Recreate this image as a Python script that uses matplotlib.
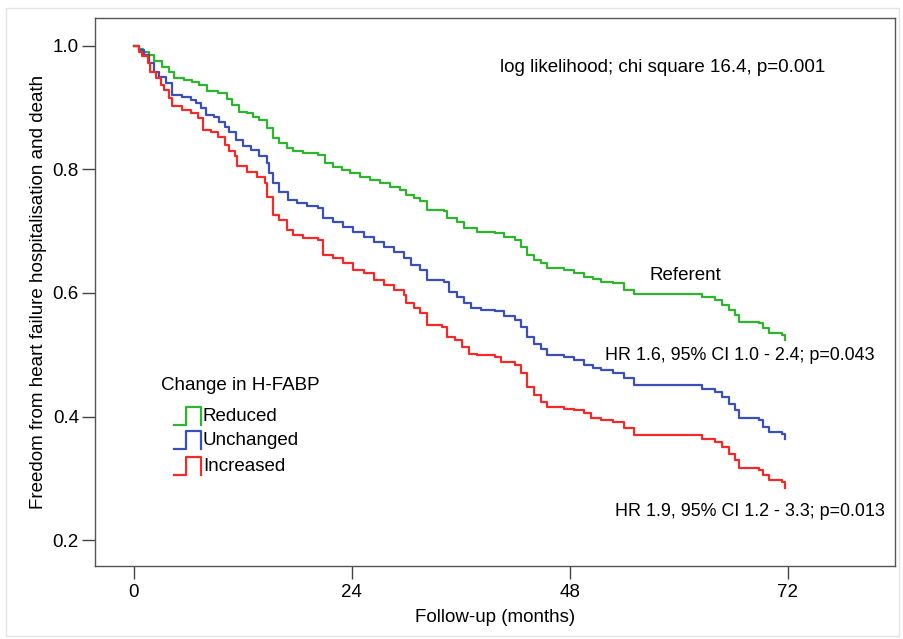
import matplotlib
matplotlib.use('Agg')
from matplotlib import pyplot as plt
from matplotlib.patches import Rectangle

plt.rcParams['font.family'] = ['Liberation Sans', 'DejaVu Sans']

# Kaplan-Meier step points (months, survival)
reduced_t = [0, 0.5, 1.0, 1.66, 2.2, 3.1, 3.9, 4.4, 5.5, 6.4, 7.2, 8.0, 9.2, 10.2, 10.8,
             11.6, 12.4, 13.1, 13.8, 14.7, 15.3, 16.0, 16.8, 17.5, 18.6, 20.3, 21.0,
             21.9, 22.9, 23.8, 24.9, 26.0, 27.1, 28.2, 29.3, 30.0, 30.8, 31.5, 32.3,
             34.1, 34.5, 35.6, 36.3, 37.8, 39.8, 40.7, 42.0, 42.6, 43.3, 44.1, 44.8,
             45.5, 47.4, 48.5, 49.6, 50.5, 51.4, 52.7, 54.0, 55.1, 62.5, 64.0, 64.7,
             65.5, 66.2, 66.6, 68.8, 69.3, 69.9, 71.4, 71.7]
reduced_s = [1.0, 0.995, 0.99, 0.985, 0.975, 0.966, 0.958, 0.948, 0.945, 0.942, 0.937,
             0.926, 0.924, 0.913, 0.904, 0.893, 0.891, 0.885, 0.880, 0.867, 0.850,
             0.842, 0.834, 0.829, 0.826, 0.823, 0.810, 0.804, 0.799, 0.794, 0.788,
             0.783, 0.778, 0.772, 0.767, 0.759, 0.753, 0.748, 0.734, 0.732, 0.721,
             0.715, 0.705, 0.699, 0.697, 0.691, 0.686, 0.675, 0.661, 0.653, 0.648,
             0.640, 0.637, 0.632, 0.626, 0.622, 0.618, 0.616, 0.605, 0.599, 0.594,
             0.589, 0.580, 0.572, 0.564, 0.553, 0.551, 0.543, 0.535, 0.532, 0.524]

unchanged_t = [0, 0.6, 1.1, 1.7, 2.2, 2.8, 3.5, 4.2, 5.3, 6.3, 6.8, 7.4, 7.9, 8.8, 9.4,
               10.0, 10.5, 11.2, 12.0, 12.9, 13.8, 14.6, 14.9, 15.3, 16.0, 17.0, 17.9,
               19.0, 20.3, 20.8, 21.9, 23.0, 24.1, 25.3, 26.4, 27.5, 28.6, 29.7, 30.5,
               31.5, 32.3, 34.1, 34.7, 35.6, 36.3, 37.1, 38.2, 39.8, 40.7, 42.0, 42.6,
               43.3, 44.1, 44.8, 45.5, 47.4, 48.5, 49.6, 50.5, 51.4, 52.7, 54.0, 55.1,
               62.5, 64.0, 64.7, 65.5, 66.2, 66.6, 68.8, 69.3, 69.9, 71.4, 71.7]
unchanged_s = [1.0, 0.993, 0.985, 0.972, 0.958, 0.950, 0.940, 0.921, 0.917, 0.912,
               0.907, 0.899, 0.888, 0.884, 0.877, 0.869, 0.861, 0.848, 0.837, 0.832,
               0.821, 0.810, 0.794, 0.778, 0.764, 0.751, 0.745, 0.741, 0.737, 0.721,
               0.715, 0.707, 0.699, 0.691, 0.683, 0.675, 0.667, 0.656, 0.645, 0.637,
               0.621, 0.618, 0.602, 0.594, 0.583, 0.575, 0.572, 0.570, 0.562, 0.556,
               0.545, 0.529, 0.518, 0.510, 0.499, 0.497, 0.491, 0.483, 0.478, 0.475,
               0.470, 0.462, 0.451, 0.445, 0.440, 0.432, 0.421, 0.410, 0.397, 0.394,
               0.383, 0.375, 0.372, 0.364]

increased_t = [0, 0.5, 0.9, 1.5, 1.8, 2.4, 3.0, 3.3, 3.9, 4.2, 5.3, 6.3, 7.0, 7.6, 8.5,
               9.2, 10.0, 10.5, 11.1, 11.4, 12.4, 13.5, 14.4, 14.7, 15.3, 16.0, 16.8,
               17.5, 18.6, 20.3, 20.8, 21.9, 23.0, 24.1, 25.3, 26.4, 27.5, 28.6, 29.7,
               30.0, 30.8, 31.5, 32.3, 33.9, 34.5, 35.4, 36.1, 36.9, 37.8, 39.8, 40.4,
               42.0, 42.6, 43.3, 44.1, 44.8, 45.5, 47.4, 48.5, 49.6, 50.3, 51.4, 52.7,
               54.0, 55.1, 62.5, 64.0, 64.7, 65.5, 66.2, 66.6, 68.8, 69.3, 69.9, 71.4,
               71.7]
increased_s = [1.0, 0.99, 0.983, 0.972, 0.958, 0.948, 0.937, 0.929, 0.915, 0.902, 0.896,
               0.891, 0.883, 0.864, 0.860, 0.853, 0.840, 0.829, 0.821, 0.805, 0.796,
               0.788, 0.778, 0.756, 0.726, 0.718, 0.702, 0.694, 0.689, 0.686, 0.661,
               0.656, 0.648, 0.637, 0.632, 0.621, 0.613, 0.605, 0.597, 0.583, 0.575,
               0.567, 0.548, 0.545, 0.529, 0.524, 0.513, 0.502, 0.499, 0.497, 0.489,
               0.483, 0.470, 0.448, 0.435, 0.424, 0.416, 0.413, 0.411, 0.405, 0.398,
               0.394, 0.392, 0.381, 0.370, 0.364, 0.359, 0.351, 0.340, 0.329, 0.316,
               0.313, 0.305, 0.297, 0.294, 0.284]

groups = ['Reduced', 'Unchanged', 'Increased']
colors = ['#2db52d', '#3a4fb8', '#f42a2a']
x_ticks = [0, 24, 48, 72]
y_ticks = [0.2, 0.4, 0.6, 0.8, 1.0]

FS = 13.5

fig = plt.figure(figsize=(9.04, 6.39), dpi=100)
fig.patches.append(Rectangle((0.007, 0.005), 0.988, 0.982, transform=fig.transFigure,
                             fill=False, edgecolor='#e4e4e4', linewidth=1))
ax = fig.add_axes([0.105, 0.114, 0.885, 0.858])

series = [(reduced_t, reduced_s), (unchanged_t, unchanged_s), (increased_t, increased_s)]
for (t, s), c in zip(series, colors):
    ax.step(t, s, where='post', color=c, linewidth=1.6)

ax.set_xlim(-4.3, 83.8)
ax.set_ylim(0.158, 1.045)
ax.set_xticks(x_ticks)
ax.set_xticklabels([str(v) for v in x_ticks])
ax.set_yticks(y_ticks)
ax.set_yticklabels(['%.1f' % v for v in y_ticks])
ax.tick_params(direction='out', length=9.5, width=1, color='#444444', labelsize=FS)
ax.tick_params(axis='x', pad=3)
ax.tick_params(axis='y', pad=2)
for sp in ax.spines.values():
    sp.set_color('#555555')
    sp.set_linewidth(1)

ax.set_xlabel('Follow-up (months)', fontsize=FS, labelpad=6)
ax.set_ylabel('Freedom from heart failure hospitalisation and death', fontsize=FS,
              labelpad=4)

ax.text(0.7096, 0.909, 'log likelihood; chi square 16.4, p=0.001', transform=ax.transAxes,
        fontsize=FS, ha='center', va='center')
ax.text(0.738, 0.531, 'Referent', transform=ax.transAxes, fontsize=FS,
        ha='center', va='center')
ax.text(0.637, 0.385, 'HR 1.6, 95% CI 1.0 - 2.4; p=0.043', transform=ax.transAxes,
        fontsize=12.9, ha='left', va='center')
ax.text(0.6496, 0.100, 'HR 1.9, 95% CI 1.2 - 3.3; p=0.013', transform=ax.transAxes,
        fontsize=12.9, ha='left', va='center')

# legend drawn the SPSS way: a little step glyph per group
ax.text(0.0826, 0.330, 'Change in H-FABP', transform=ax.transAxes, fontsize=FS,
        ha='left', va='center')
legend_y = [0.2737, 0.230, 0.1825]
for g, c, yc in zip(groups, colors, legend_y):
    lo, hi = yc - 0.0164, yc + 0.0164
    ax.plot([0.0989, 0.1139, 0.1139, 0.1327, 0.1327], [lo, lo, hi, hi, lo],
            transform=ax.transAxes, color=c, linewidth=1.6, clip_on=False)
    ax.text(0.135, yc, g, transform=ax.transAxes, fontsize=FS, ha='left', va='center')

fig.savefig('out.png', dpi=100)
